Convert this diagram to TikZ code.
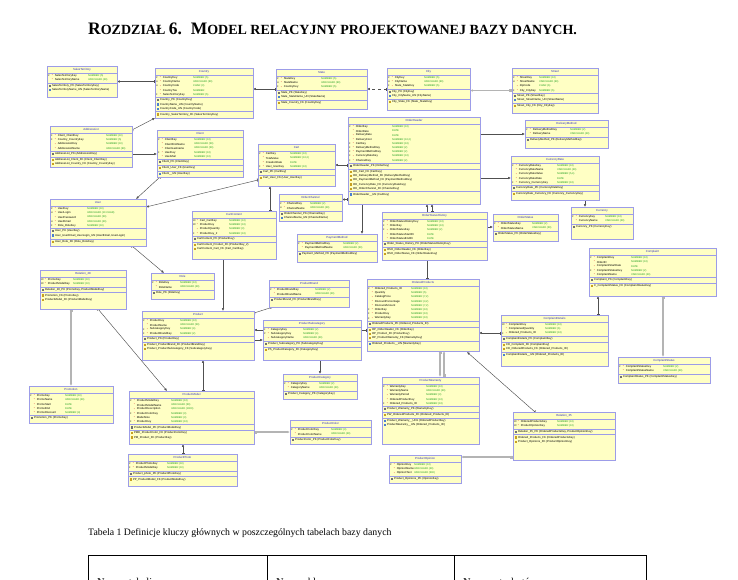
\documentclass[tikz,border=0pt]{standalone}
\usepackage{fontspec}
\setmainfont{Liberation Serif}
\newfontfamily\erfont{Liberation Sans}
\usetikzlibrary{positioning,calc,arrows.meta}

\definecolor{entfill}{HTML}{FFFFC4}
\definecolor{entdraw}{HTML}{9C9CE8}
\definecolor{enttext}{HTML}{3030C0}
\definecolor{typegreen}{HTML}{1E9E1E}
\definecolor{starred}{HTML}{E02020}
\definecolor{relgray}{HTML}{505050}
\definecolor{relpale}{HTML}{B4B4B4}
\definecolor{pk}{HTML}{707070}
\definecolor{un}{HTML}{4A7FD0}
\definecolor{fk}{HTML}{C8A020}

\pgfdeclarelayer{background}
\pgfsetlayers{background,main}

% heading sizes (fake small caps)
\newcommand\hdbig{\fontsize{17.5}{19}\selectfont}
\newcommand\hdsmall{\fontsize{14}{16}\selectfont}

% table box: name, x, y, width, height, title
\newcommand\entity[6]{%
  \node[entbox,minimum width=#4pt,minimum height=#5pt] (#1) at (#2,#3) {};
  \node[enttitle] at ($(#1.north)+(0,3.4)$) {#6};
  \draw[entsep] ($(#1.north west)+(0,6.8)$) -- ($(#1.north east)+(0,6.8)$);
}
% columns: name, type column, key/name/type list
\newcommand\attrs[3]{%
  \foreach \k/\n/\t [count=\i] in {#3} {
    \node[attrkey] at ($(#1.north west)+(1,{5.6+4.2*\i})$) {\k};
    \node[attrstar] at ($(#1.north west)+(4.6,{5.6+4.2*\i})$) {*};
    \node[attrname] at ($(#1.north west)+(7.6,{5.6+4.2*\i})$) {\n};
    \node[attrtype] at ($(#1.north west)+(#2,{5.6+4.2*\i})$) {\t};
  }
}
% keys: name, offset of the rule, icon/text list
\newcommand\keys[3]{%
  \draw[entsep] ($(#1.north west)+(0,#2)$) -- ($(#1.north east)+(0,#2)$);
  \foreach \c/\n [count=\i] in {#3} {
    \node[keyicon,fill=\c] at ($(#1.north west)+(2.6,{#2-1.4+4.2*\i})$) {};
    \node[keytext] at ($(#1.north west)+(4.8,{#2-1.4+4.2*\i})$) {\n};
  }
}

\AtBeginDocument{\catcode`\_=12 }

\begin{document}
\begin{tikzpicture}[
    x=1pt, y=-1pt,
    entbox/.style={draw=entdraw, fill=entfill, line width=0.7pt, anchor=north west, inner sep=0pt, outer sep=0pt},
    enttitle/.style={inner sep=0pt, text=enttext, font=\erfont\fontsize{2.9}{3}\selectfont},
    entsep/.style={draw=entdraw, line width=0.5pt},
    attrkey/.style={anchor=west, inner sep=0pt, font=\erfont\fontsize{2.3}{3}\selectfont},
    attrstar/.style={anchor=west, inner sep=0pt, text=starred, font=\erfont\fontsize{2.7}{3}\selectfont},
    attrname/.style={anchor=west, inner sep=0pt, font=\erfont\fontsize{2.8}{3}\selectfont},
    attrtype/.style={anchor=west, inner sep=0pt, text=typegreen, font=\erfont\fontsize{2.6}{3}\selectfont},
    keyicon/.style={inner sep=0pt, minimum size=2.2pt, draw=none},
    keytext/.style={anchor=west, inner sep=0pt, font=\erfont\fontsize{2.8}{3}\selectfont},
    rel/.style={draw=relgray, line width=0.45pt, {Bar[width=3pt] Bar[width=3pt]}-{Latex[length=2.8pt,width=2.4pt]}},
    relwide/.style={rel, draw=relpale, line width=1.3pt},
    tableline/.style={draw=black, line width=0.8pt}
  ]
  \useasboundingbox (0,0) rectangle (738,579);

  % page text
  \node[anchor=base west, inner sep=0pt, font=\bfseries] (chapter) at (88,34)
    {\hdbig R\hdsmall OZDZIAŁ \hdbig 6.\enspace M\hdsmall ODEL RELACYJNY PROJEKTOWANEJ BAZY DANYCH.};
  \node[anchor=base west, inner sep=0pt, font=\fontsize{9.8}{12}\selectfont] (caption) at (88,535)
    {Tabela 1 Definicje kluczy głównych w poszczególnych tabelach bazy danych};
  \draw[tableline] (88,600) -- (88,555) -- (646,555) -- (646,600);
  \draw[tableline] (267,555) -- (267,600);
  \draw[tableline] (454,555) -- (454,600);
  \node[anchor=base west, inner sep=0pt, font=\fontsize{10.5}{12}\selectfont] (colA) at (97,585) {Nazwa tabeli};
  \node[anchor=base west, inner sep=0pt, font=\fontsize{10.5}{12}\selectfont] (colB) at (276,585) {Nazwa klucza};
  \node[anchor=base west, inner sep=0pt, font=\fontsize{10.5}{12}\selectfont] (colC) at (463,585) {Nazwa atrybutów};

  % tables
  \entity{SalesTerritory}{47}{66}{70}{31}{SalesTerritory}
  \attrs{SalesTerritory}{41}{P/SalesTerritoryKey/{NUMBER (5)}, {}/SalesTerritoryName/{VARCHAR2 (40)}}
  \keys{SalesTerritory}{16.8}{pk/SalesTerritory_PK (SalesTerritoryKey), un/SalesTerritoryName_UN (SalesTerritoryName)}

  \entity{Country}{155}{68}{98}{50}{Country}
  \attrs{Country}{38}{P/CountryKey/{NUMBER (5)}, U/CountryName/{VARCHAR2 (60)}, U/CountryCode/{CHAR (3)}, {}/CountryTax/NUMBER, F/SalesTerritoryKey/{NUMBER (5)}}
  \keys{Country}{29.4}{pk/Country_PK (CountryKey), un/CountryName_UN (CountryName), un/CountryCode_UN (CountryCode)}
  \keys{Country}{43.6}{fk/Country_SalesTerritory_FK (SalesTerritoryKey)}

  \entity{State}{276}{69}{91}{40}{State}
  \attrs{State}{45}{P/StateKey/{NUMBER (5)}, U/StateName/{VARCHAR2 (60)}, F/CountryKey/{NUMBER (5)}}
  \keys{State}{21}{pk/State_PK (StateKey), un/State_StateName_UN (StateName)}
  \keys{State}{31}{fk/State_Country_FK (CountryKey)}

  \entity{City}{387}{68}{83}{42}{City}
  \attrs{City}{37}{P/CityKey/{NUMBER (5)}, U/CityName/{VARCHAR2 (60)}, F/State_StateKey/{NUMBER (5)}}
  \keys{City}{21}{pk/City_PK (CityKey), un/City_CityName_UN (CityName)}
  \keys{City}{31}{fk/City_State_FK (State_StateKey)}

  \entity{Street}{512}{68}{86}{45}{Street}
  \attrs{Street}{27}{P/StreetKey/{NUMBER (10)}, U/StreetName/{VARCHAR2 (60)}, {}/ZipCode/{CHAR (6)}, F/City_CityKey/{NUMBER (5)}}
  \keys{Street}{25.2}{pk/Street_PK (StreetKey), un/Street_StreetName_UN (StreetName)}
  \keys{Street}{35.2}{fk/Street_City_FK (City_CityKey)}

  \entity{DeliveryMethod}{525}{120}{83}{28}{DeliveryMethod}
  \attrs{DeliveryMethod}{45}{P/DeliveryMethodKey/{NUMBER (2)}, {}/DeliveryName/{VARCHAR2 (40)}}
  \keys{DeliveryMethod}{16.8}{pk/DeliveryMethod_PK (DeliveryMethodKey)}

  \entity{CurrencyRate}{511}{156}{88}{44}{CurrencyRate}
  \attrs{CurrencyRate}{46}{P/CurrencyRateKey/{NUMBER (10)}, {}/CurrencyRateName/{VARCHAR2 (40)}, {}/CurrencyRateValue/{NUMBER (5,4)}, {}/CurrencyRateDate/DATE, F/Currency_CurrencyKey/{NUMBER (10)}}
  \keys{CurrencyRate}{29.4}{pk/CurrencyRate_PK (CurrencyRateKey)}
  \keys{CurrencyRate}{35.2}{fk/CurrencyRate_Currency_FK (Currency_CurrencyKey)}

  \entity{Currency}{571}{207}{62}{32}{Currency}
  \attrs{Currency}{34}{P/CurrencyKey/{NUMBER (10)}, {}/CurrencyName/{VARCHAR2 (40)}}
  \keys{Currency}{16.8}{pk/Currency_PK (CurrencyKey)}

  \entity{OrderStatus}{493}{214}{65}{27}{OrderStatus}
  \attrs{OrderStatus}{39}{P/OrderStatusKey/{NUMBER (2)}, {}/OrderStatusName/{VARCHAR2 (30)}}
  \keys{OrderStatus}{16.8}{pk/OrderStatus_PK (OrderStatusKey)}

  \entity{Complaint}{589}{248}{127}{48}{Complaint}
  \attrs{Complaint}{42}{P/ComplaintKey/{NUMBER (10)}, {}/OrderID/{NUMBER (10)}, {}/ComplaintStartDate/DATE, F/ComplaintStatusKey/{NUMBER (2)}, {}/ComplaintName/{VARCHAR2 (40)}}
  \keys{Complaint}{29.4}{pk/Complaint_PK (ComplaintKey)}
  \keys{Complaint}{35.2}{fk/C_ComplaintStatus_FK (ComplaintStatusKey)}

  \entity{ComplaintDetails}{501}{315}{107}{51}{ComplaintDetails}
  \attrs{ComplaintDetails}{44}{PF/ComplaintKey/{NUMBER (10)}, {}/ComplainedQuantity/{NUMBER (6)}, F/Ordered_Products_ID/{NUMBER (10)}}
  \keys{ComplaintDetails}{21}{pk/ComplaintDetails_PK (ComplaintKey)}
  \keys{ComplaintDetails}{26.8}{fk/CD_Complaint_FK (ComplaintKey), fk/CD_OrderedProducts_FK (Ordered_Products_ID)}
  \keys{ComplaintDetails}{36.8}{un/ComplaintDetails__UN (Ordered_Products_ID)}

  \entity{ComplaintStatus}{618}{357}{92}{26}{ComplaintStatus}
  \attrs{ComplaintStatus}{45}{P/ComplaintStatusKey/{NUMBER (2)}, {}/ComplaintStatusName/{VARCHAR2 (40)}}
  \keys{ComplaintStatus}{16.8}{pk/ComplaintStatus_PK (ComplaintStatusKey)}

  \entity{Relation35}{513}{412}{102}{48}{Relation_35}
  \attrs{Relation35}{44}{PF/OrderedProductsKey/{NUMBER (10)}, PF/ProductOpinionKey/{NUMBER (10)}}
  \keys{Relation35}{16.8}{pk/{Relation_35_PK (OrderedProductsKey, ProductOpinionKey)}}
  \keys{Relation35}{22.6}{fk/Ordered_Products_FK (OrderedProductsKey), fk/Product_Opinions_FK (ProductOpinionKey)}

  \entity{OrderHeader}{348}{117}{132}{87}{OrderHeader}
  \attrs{OrderHeader}{44}{P/OrderKey/{NUMBER (10)}, {}/OrderDate/DATE, {}/DeliveryDate/DATE, {}/DeliveryCost/{NUMBER (10,2)}, F/CartKey/{NUMBER (10)}, F/DeliveryMethodKey/{NUMBER (2)}, F/PaymentMethodKey/{NUMBER (2)}, F/CurrencyRateKey/{NUMBER (10)}, F/ChannelKey/{NUMBER (2)}}
  \keys{OrderHeader}{46.2}{pk/OrderHeader_PK (OrderKey)}
  \keys{OrderHeader}{52}{fk/OH_Cart_FK (CartKey), fk/OH_DeliveryMethod_FK (DeliveryMethodKey), fk/OH_PaymentMethod_FK (PaymentMethodKey), fk/OH_CurrencyRate_FK (CurrencyRateKey), fk/OH_OrderChannel_FK (ChannelKey)}
  \keys{OrderHeader}{74.6}{un/OrderHeader__UN (CartKey)}

  \entity{Cart}{258}{144}{77}{42}{Cart}
  \attrs{Cart}{32}{P/CartKey/{NUMBER (10)}, {}/TotalValue/{NUMBER (10,2)}, {}/CreationDate/DATE, F/User_UserKey/{NUMBER (10)}}
  \keys{Cart}{25.2}{pk/Cart_PK (CartKey)}
  \keys{Cart}{31}{fk/Cart_User_FK (User_UserKey)}

  \entity{AddressList}{50}{126}{82}{41}{AddressList}
  \attrs{AddressList}{56}{F/Client_ClientKey/{NUMBER (10)}, F/Country_CountryKey/{NUMBER (5)}, {}/AddressListKey/{NUMBER (10)}, {}/AddressListName/{VARCHAR2 (60)}}
  \keys{AddressList}{25.2}{pk/AddressList_PK (AddressListKey)}
  \keys{AddressList}{31}{fk/AddressList_Client_FK (Client_ClientKey), fk/AddressList_Country_FK (Country_CountryKey)}

  \entity{Client}{157}{130}{86}{47}{Client}
  \attrs{Client}{37}{P/ClientKey/{NUMBER (10)}, {}/ClientFirstName/{VARCHAR2 (50)}, {}/ClientLastname/{VARCHAR2 (50)}, F/UserKey/{NUMBER (10)}, {}/UserMail/{NUMBER (10)}}
  \keys{Client}{29.4}{pk/Client_PK (ClientKey)}
  \keys{Client}{35.2}{fk/Client_User_FK (UserKey)}
  \keys{Client}{41}{un/Client__UN (UserKey)}

  \entity{User}{50}{199}{96}{47}{User}
  \attrs{User}{37}{P/UserKey/{NUMBER (10)}, U/UserLogin/{VARCHAR2 (10 CHAR)}, {}/UserPassword/{VARCHAR2 (50)}, U/UserEmail/{VARCHAR2 (40)}, F/Role_RoleKey/{NUMBER (10)}}
  \keys{User}{29.4}{pk/User_PK (UserKey), un/{User_UserEmail_UserLogin_UN (UserEmail, UserLogin)}}
  \keys{User}{39.8}{fk/User_Role_FK (Role_RoleKey)}

  \entity{CartContent}{192}{211}{84}{48}{CartContent}
  \attrs{CartContent}{37}{PF/Cart_CartKey/{NUMBER (10)}, PF/ProductKey/{NUMBER (10)}, {}/ProductQuantity/{NUMBER (3)}, F/ProductKey_2/{NUMBER (10)}}
  \keys{CartContent}{25.2}{pk/CartContent_PK (ProductKey)}
  \keys{CartContent}{31}{fk/CartContent_Product_FK (ProductKey_2), fk/CartContent_Cart_FK (Cart_CartKey)}

  \entity{Role}{151}{273}{63}{26}{Role}
  \attrs{Role}{29}{P/RoleKey/{NUMBER (10)}, {}/RoleName/{VARCHAR2 (40)}}
  \keys{Role}{16.8}{pk/Role_PK (RoleKey)}

  \entity{Relation28}{40}{270}{86}{39}{Relation_28}
  \attrs{Relation28}{33}{PF/PromoKey/{NUMBER (10)}, PF/ProductModelKey/{NUMBER (10)}}
  \keys{Relation28}{16.8}{pk/{Relation_28_PK (PromoKey, ProductModelKey)}}
  \keys{Relation28}{22.6}{fk/Promotion_FK (PromoKey), fk/ProductModel_FK (ProductModelKey)}

  \entity{Promotion}{29}{386}{84}{37}{Promotion}
  \attrs{Promotion}{36}{P/PromoKey/{NUMBER (10)}, {}/PromoName/{VARCHAR2 (40)}, {}/PromoStart/DATE, {}/PromoEnd/DATE, {}/PromoDiscount/{NUMBER (4)}}
  \keys{Promotion}{29.4}{pk/Promotion_PK (PromoKey)}

  \entity{OrderChannel}{279}{194}{63}{27}{OrderChannel}
  \attrs{OrderChannel}{31}{P/ChannelKey/{NUMBER (2)}, U/ChannelName/{VARCHAR2 (40)}}
  \keys{OrderChannel}{16.8}{pk/OrderChannel_PK (ChannelKey), un/ChannelName_UN (ChannelName)}

  \entity{PaymentMethod}{297}{234}{80}{28}{PaymentMethod}
  \attrs{PaymentMethod}{46}{P/PaymentMethodKey/{NUMBER (2)}, {}/PaymentMethodName/{VARCHAR2 (30)}}
  \keys{PaymentMethod}{16.8}{pk/Payment_Method_PK (PaymentMethodKey)}

  \entity{OrderStatusHistory}{382}{212}{105}{48}{OrderStatusHistory}
  \attrs{OrderStatusHistory}{45}{P/OrderStatusHistoryKey/{NUMBER (10)}, F/OrderKey/{NUMBER (10)}, F/OrderStatusKey/{NUMBER (2)}, {}/OrderStatusStartDt/DATE, {}/OrderStatusEndDt/DATE}
  \keys{OrderStatusHistory}{29.4}{pk/Order_Status_History_PK (OrderStatusHistoryKey)}
  \keys{OrderStatusHistory}{35.2}{fk/OSH_OrderHeader_FK (OrderKey), fk/OSH_OrderStatus_FK (OrderStatusKey)}

  \entity{ProductBrand}{269}{280}{80}{27}{ProductBrand}
  \attrs{ProductBrand}{46}{P/ProductBrandKey/{NUMBER (2)}, {}/ProductBrandName/{VARCHAR2 (40)}}
  \keys{ProductBrand}{16.8}{pk/ProductBrand_PK (ProductBrandKey)}

  \entity{OrderedProducts}{367}{279}{112}{72}{OrderedProducts}
  \attrs{OrderedProducts}{44}{P/Ordered_Products_ID/{NUMBER (10)}, {}/Quantity/{NUMBER (5)}, {}/CatalogPrice/{NUMBER (7,2)}, {}/DiscountPercentage/{NUMBER (3,2)}, {}/DiscountAmount/{NUMBER (7,2)}, F/OrderKey/{NUMBER (10)}, F/ProductKey/{NUMBER (10)}, F/WarrantyKey/{NUMBER (10)}}
  \keys{OrderedProducts}{42}{pk/OrderedProducts_PK (Ordered_Products_ID)}
  \keys{OrderedProducts}{47.8}{fk/OP_OrderHeader_FK (OrderKey), fk/OP_Product_FK (ProductKey), fk/OP_ProductWarranty_FK (WarrantyKey)}
  \keys{OrderedProducts}{62}{un/Ordered_Products__UN (WarrantyKey)}

  \entity{Product}{142}{311}{112}{49}{Product}
  \attrs{Product}{38}{P/ProductKey/{NUMBER (10)}, {}/ProductName/{VARCHAR2 (50)}, F/SubcategoryKey/{NUMBER (4)}, F/ProductBrandKey/{NUMBER (2)}}
  \keys{Product}{25.2}{pk/Product_PK (ProductKey)}
  \keys{Product}{31}{fk/Product_ProductBrand_FK (ProductBrandKey), fk/Product_ProductSubcategory_FK (SubcategoryKey)}

  \entity{ProductSubcategory}{263}{320}{98}{40}{ProductSubcategory}
  \attrs{ProductSubcategory}{40}{F/CategoryKey/{NUMBER (2)}, P/SubcategoryKey/{NUMBER (4)}, {}/SubcategoryName/{VARCHAR2 (40)}}
  \keys{ProductSubcategory}{21}{pk/Product_Subcategory_PK (SubcategoryKey)}
  \keys{ProductSubcategory}{26.8}{fk/PS_ProductCategory_FK (CategoryKey)}

  \entity{ProductCategory}{283}{374}{74}{25}{ProductCategory}
  \attrs{ProductCategory}{36}{P/CategoryKey/{NUMBER (2)}, {}/CategoryName/{VARCHAR2 (40)}}
  \keys{ProductCategory}{16.8}{pk/Product_Category_PK (CategoryKey)}

  \entity{ProductModel}{129}{391}{125}{53}{ProductModel}
  \attrs{ProductModel}{42}{P/ProductModelKey/{NUMBER (10)}, {}/ProductModelName/{VARCHAR2 (50)}, {}/ProductDescription/{VARCHAR2 (1000)}, F/ProductColorKey/{NUMBER (3)}, {}/ModelSize/{NUMBER (3)}, F/ProductKey/{NUMBER (10)}}
  \keys{ProductModel}{33.6}{pk/ProductModel_PK (ProductModelKey)}
  \keys{ProductModel}{39.4}{fk/PMD_ProductColor_FK (ProductColorKey), fk/PM_Product_FK (ProductKey)}

  \entity{ProductPhoto}{128}{454}{109}{32}{ProductPhoto}
  \attrs{ProductPhoto}{39}{P/ProductPhotoKey/{NUMBER (10)}, F/ProductModelKey/{NUMBER (10)}}
  \keys{ProductPhoto}{16.8}{pk/Product_photo_PK (ProductPhotoKey)}
  \keys{ProductPhoto}{22.6}{fk/PP_ProductModel_FK (ProductModelKey)}

  \entity{ProductColor}{290}{420}{81}{24}{ProductColor}
  \attrs{ProductColor}{41}{P/ProductColorKey/{NUMBER (3)}, {}/ProductColorName/{VARCHAR2 (40)}}
  \keys{ProductColor}{16.8}{pk/ProductColor_PK (ProductColorKey)}

  \entity{ProductWarranty}{382}{377}{97}{67}{ProductWarranty}
  \attrs{ProductWarranty}{44}{P/WarrantyKey/{NUMBER (10)}, {}/WarrantyName/{VARCHAR2 (40)}, {}/WarrantyPeriod/{NUMBER (3)}, {}/OrderedProductKey/{NUMBER (10)}, F/Ordered_Products_ID/{NUMBER (10)}}
  \keys{ProductWarranty}{29.4}{pk/Product_Warranty_PK (WarrantyKey)}
  \keys{ProductWarranty}{35.2}{fk/PW_OrderedProducts_FK (Ordered_Products_ID)}
  \keys{ProductWarranty}{41}{un/Product_Warranty__UN1 (OrderedProductKey), un/ProductWarranty__UN (Ordered_Products_ID)}

  \entity{ProductOpinion}{389}{455}{72}{28}{ProductOpinion}
  \attrs{ProductOpinion}{25}{P/OpinionKey/{NUMBER (10)}, {}/OpinionName/{VARCHAR2 (40)}, {}/OpinionText/{VARCHAR2 (500)}}
  \keys{ProductOpinion}{21}{pk/Product_Opinions_PK (OpinionKey)}

  % relations, child end first
  \begin{pgfonlayer}{background}
  \fill[white] (0,0) rectangle (738,579);
  \draw[rel] (Country.west |- SalesTerritory.east) -- (SalesTerritory.east);
  \draw[rel] (State.west) -- (State.west -| Country.east);
  \draw[rel,dashed] (City.west) -- (City.west -| State.east);
  \draw[relwide] (Street.west) -- (Street.west -| City.east);
  \draw[rel] ($(AddressList.north east)+(0,4)$) -- (Country.south west);
  \draw[rel] ($(AddressList.east)+(0,7.5)$) coordinate (al) -- (al -| Client.west);
  \draw[rel] ($(Client.south west)+(3,0)$) -- ($(User.north east)+(-10,0)$);
  \draw[rel] ($(Cart.south west)+(0,-6)$) -- ($(User.north east)+(0,8)$);
  \draw[rel] ($(User.south east)+(-14,0)$) -- ($(Role.north west)+(13,0)$);
  \draw[rel] ($(CartContent.north west)+(78,0)$) coordinate (cc) -- (cc |- Cart.south);
  \draw[rel] ($(CartContent.south west)+(31,0)$) coordinate (cp) -- (cp |- Product.north);
  \draw[rel] ($(Product.north east)+(0,2)$) -- ($(ProductBrand.south west)+(4,0)$);
  \draw[rel] ($(Product.east)+(0,4.5)$) coordinate (ps) -- (ps -| ProductSubcategory.west);
  \draw[rel] ($(ProductSubcategory.south west)+(57,0)$) coordinate (sc) -- (sc |- ProductCategory.north);
  \draw[rel] ($(OrderedProducts.west)+(0,15)$) coordinate (op) -- (op -| Product.east);
  \draw[rel] ($(OrderStatusHistory.north west)+(50,0)$) coordinate (oh) -- (oh |- OrderHeader.south);
  \draw[rel] ($(OrderedProducts.north west)+(60,0)$) coordinate (oo) -- (oo |- OrderHeader.south);
  \draw[rel] ($(OrderStatusHistory.east)+(0,-9)$) coordinate (os) -- (os -| OrderStatus.west);
  \draw[rel] ($(OrderHeader.south west)+(14,0)$) coordinate (pm) -- (pm |- PaymentMethod.north);
  \draw[rel] (OrderHeader.east |- DeliveryMethod.west) -- (DeliveryMethod.west);
  \draw[rel] (OrderHeader.east |- CurrencyRate.west) -- (CurrencyRate.west);
  \draw[rel] ($(CurrencyRate.south west)+(74,0)$) coordinate (cr) -- (cr |- Currency.north);
  \draw[rel] ($(OrderHeader.west)+(0,4.5)$) coordinate (ct) -- (ct -| Cart.east);
  \draw[rel] ($(OrderHeader.west)+(0,39)$) coordinate (ch) -- (ch -| OrderChannel.east);
  \draw[relwide] ($(OrderedProducts.south west)+(73,0)$) coordinate (w1) -- (w1 |- ProductWarranty.north);
  \draw[relwide] ($(ProductWarranty.north west)+(62,0)$) coordinate (w2) -- (w2 |- OrderedProducts.south);
  \draw[rel] ($(Relation35.north west)+(22,0)$) -- ($(OrderedProducts.south east)+(-12,1)$);
  \draw[relwide] ($(Relation35.west)+(0,21)$) coordinate (ro) -- (ro -| ProductOpinion.east);
  \draw[rel] ($(ComplaintDetails.west)+(0,-7.5)$) coordinate (cd) -- (cd -| OrderedProducts.east);
  \draw[rel] ($(ComplaintDetails.north west)+(97,0)$) coordinate (cm) -- (cm |- Complaint.south);
  \draw[relwide] ($(Complaint.south west)+(74,0)$) coordinate (cs) -- (cs |- ComplaintStatus.north);
  \draw[relwide] ($(Relation28.south west)+(31,0)$) coordinate (rp) -- (rp |- Promotion.north);
  \draw[rel] ($(Relation28.south east)+(-28,0)$) -- ($(ProductModel.north west)+(38,0)$);
  \draw[rel] ($(ProductModel.north west)+(74,0)$) coordinate (mp) -- (mp |- Product.south);
  \draw[rel] ($(ProductPhoto.north west)+(55,0)$) coordinate (ph) -- (ph |- ProductModel.south);
  \draw[relwide] ($(ProductModel.east)+(0,14.5)$) coordinate (pc) -- (pc -| ProductColor.west);
  \end{pgfonlayer}
\end{tikzpicture}
\end{document}
